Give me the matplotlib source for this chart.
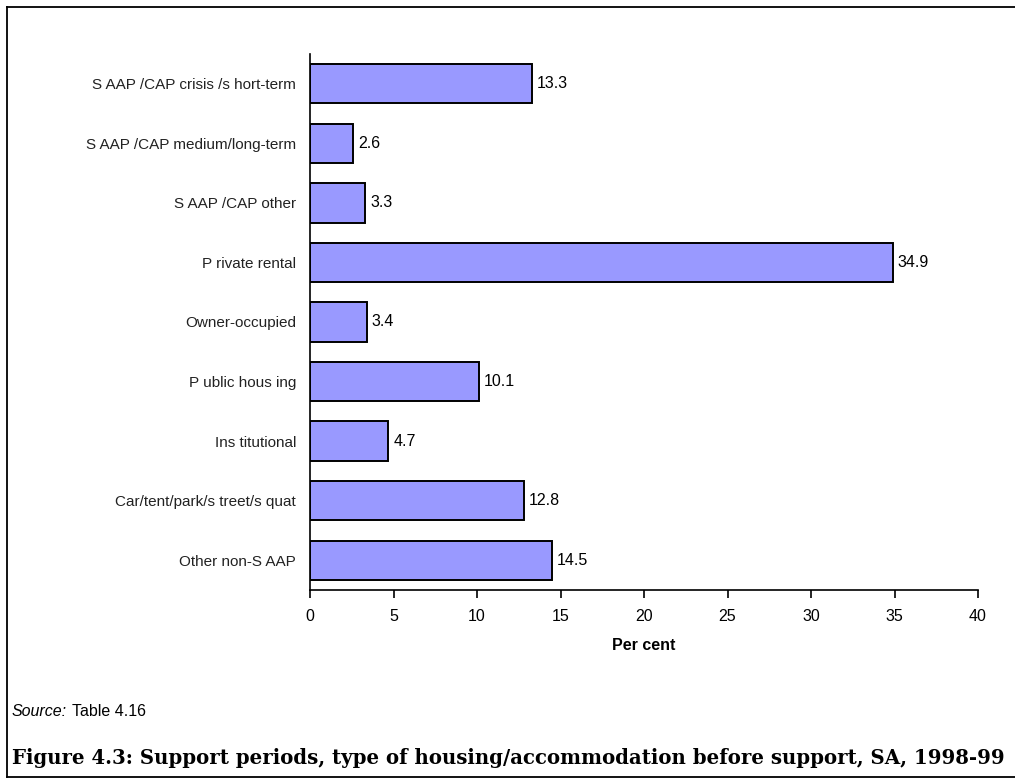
"""
plot.py
Support periods, type of housing/accommodation before support, SA, 1998-99
Output: out.png
"""

import matplotlib
matplotlib.use("Agg")
import matplotlib.pyplot as plt
from matplotlib.lines import Line2D

# Datos
categories = [
    "S AAP /CAP crisis /s hort-term",
    "S AAP /CAP medium/long-term",
    "S AAP /CAP other",
    "P rivate rental",
    "Owner-occupied",
    "P ublic hous ing",
    "Ins titutional",
    "Car/tent/park/s treet/s quat",
    "Other non-S AAP",
]
values = [13.3, 2.6, 3.3, 34.9, 3.4, 10.1, 4.7, 12.8, 14.5]
x_ticks = [0, 5, 10, 15, 20, 25, 30, 35, 40]

plt.rcParams["font.family"] = ["Liberation Sans", "DejaVu Sans"]

W, H = 1015, 780
fig = plt.figure(figsize=(W / 100, H / 100), dpi=100)

# Ejes en coordenadas de píxel
left, right, top, bottom = 310, 978, 54, 590
ax = fig.add_axes([left / W, 1 - bottom / H, (right - left) / W, (bottom - top) / H])

y = range(len(categories))
ax.barh(y, values, height=0.66, color="#9999FF", edgecolor="black", linewidth=1.4)
for yi, v in zip(y, values):
    ax.text(v + 0.3, yi, f"{v:.1f}", va="center", ha="left", fontsize=11.5)

ax.set_ylim(len(categories) - 0.5, -0.5)
ax.set_xlim(0, 40)
ax.set_yticks(list(y))
ax.set_yticklabels(categories, fontsize=11, color="#222222")
ax.tick_params(axis="y", length=0, pad=10)
ax.set_xticks(x_ticks)
ax.set_xticklabels([str(t) for t in x_ticks], fontsize=11.5)
ax.tick_params(axis="x", direction="out", length=6, width=1.2, pad=8)
ax.set_xlabel("Per cent", fontsize=11.5, fontweight="bold", labelpad=10)

for s in ["top", "right"]:
    ax.spines[s].set_visible(False)
ax.spines["left"].set_linewidth(1.2)
ax.spines["bottom"].set_linewidth(1.2)

# Marco exterior (sin lado derecho)
def px_line(x0, y0, x1, y1):
    fig.add_artist(Line2D([x0 / W, x1 / W], [1 - y0 / H, 1 - y1 / H],
                          color="black", linewidth=1.3, transform=fig.transFigure))

px_line(7, 7, W, 7)
px_line(7, 7, 7, 777)
px_line(7, 777, W, 777)

# Fuente y título
fig.text(12 / W, 1 - 712 / H, "Source:", fontsize=11.5, style="italic", va="center", ha="left")
fig.text(72 / W, 1 - 712 / H, "Table 4.16", fontsize=11.5, va="center", ha="left")
fig.text(12 / W, 1 - 758 / H,
         "Figure 4.3: Support periods, type of housing/accommodation before support, SA, 1998-99",
         fontsize=14.2, fontweight="bold", family=["DejaVu Serif"], va="center", ha="left")

fig.savefig("out.png", dpi=100)
